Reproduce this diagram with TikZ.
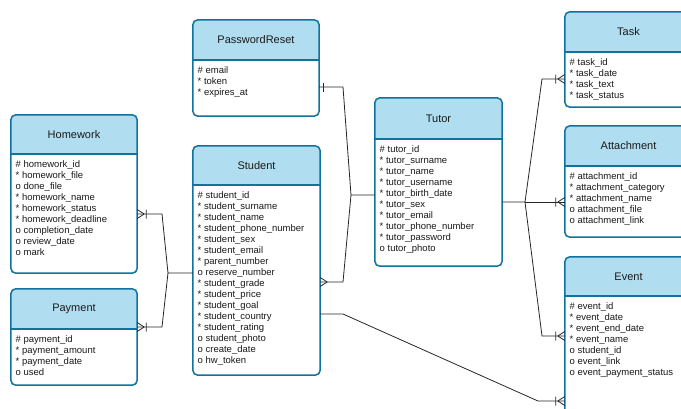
\documentclass[tikz,border=0pt]{standalone}
\usepackage{fontspec}
\setmainfont{Liberation Sans}
\usetikzlibrary{fit}
\definecolor{hdr}{HTML}{B1DDF0}
\definecolor{bdr}{HTML}{10739E}
\definecolor{txt}{HTML}{1A1A1A}
\definecolor{lnk}{HTML}{262626}
\tikzset{
  conn/.style={draw=lnk, line width=0.8pt},
  titletext/.style={inner sep=0pt, text=txt, font=\fontsize{11}{13}\selectfont},
  attrtext/.style={anchor=north west, align=left, inner sep=0pt, text=txt, font=\fontsize{9.5}{11}\selectfont},
  pics/onemany/.style={code={\draw[conn] (-7,0) -- (0,-4.5) (-7,0) -- (0,4.5) (-9,-4.5) -- (-9,4.5);}},
  pics/manyonly/.style={code={\draw[conn] (-7,0) -- (0,-4.5) (-7,0) -- (0,4.5);}},
  pics/onebar/.style={code={\draw[conn] (-4,-4.5) -- (-4,4.5);}}
}
% #1 name, #2 left, #3 top, #4 right, #5 header bottom, #6 bottom, #7 title, #8 attributes
\newcommand\erentity[8]{%
  \node[fit={(#2,#3) (#4,#6)}, inner sep=0pt, fill=white, rounded corners=5pt] (#1) {};
  \fill[hdr] (#2,#5) [rounded corners=5pt] -- (#2,#3) -- (#4,#3) [sharp corners] -- (#4,#5) -- cycle;
  \draw[bdr, line width=1.5pt, rounded corners=5pt] (#1.north west) rectangle (#1.south east);
  \draw[bdr, line width=1.2pt] (#2,#5) -- (#4,#5);
  \node[titletext] (#1-title) at ({(#2+#4)/2},{(#3+#5)/2}) {#7};
  \node[attrtext] (#1-attrs) at ({#2+4.5},{#5+6.5}) {#8};
}
\begin{document}
\begin{tikzpicture}[x=1pt,y=-1pt]
\useasboundingbox (0,0) rectangle (681,408);
\clip (0,0) rectangle (681,408);

\erentity{homework}{11}{115}{137}{154}{273}{Homework}{\# homework\_id\\* homework\_file\\o done\_file\\* homework\_name\\* homework\_status\\* homework\_deadline\\o completion\_date\\o review\_date\\o mark}
\erentity{payment}{11}{289}{137}{329}{385}{Payment}{\# payment\_id\\* payment\_amount\\* payment\_date\\o used}
\erentity{passwordreset}{193}{20}{319}{60}{116}{PasswordReset}{\# email\\* token\\* expires\_at}
\erentity{student}{193}{146}{320}{185}{375}{Student}{\# student\_id\\* student\_surname\\* student\_name\\* student\_phone\_number\\* student\_sex\\* student\_email\\* parent\_number\\o reserve\_number\\* student\_grade\\* student\_price\\* student\_goal\\* student\_country\\* student\_rating\\o student\_photo\\o create\_date\\o hw\_token}
\erentity{tutor}{375}{98}{502}{139}{266}{Tutor}{\# tutor\_id\\* tutor\_surname\\* tutor\_name\\* tutor\_username\\* tutor\_birth\_date\\* tutor\_sex\\* tutor\_email\\* tutor\_phone\_number\\* tutor\_password\\o tutor\_photo}
\erentity{task}{565}{12}{692}{52}{107}{Task}{\# task\_id\\* task\_date\\* task\_text\\* task\_status}
\erentity{attachment}{565}{126}{692}{166}{237}{Attachment}{\# attachment\_id\\* attachment\_category\\* attachment\_name\\o attachment\_file\\o attachment\_link}
\erentity{event}{565}{257}{692}{296}{420}{Event}{\# event\_id\\* event\_date\\* event\_end\_date\\* event\_name\\o student\_id\\o event\_link\\o event\_payment\_status}

% Homework / Payment -- Student
\draw[conn] (homework.east |- 0,214) -- (162,214) -- (168,273) -- (student.west |- 0,273);
\draw[conn] (payment.east |- 0,327) -- (162,327) -- (168,273);
\pic[rotate=180] at (homework.east |- 0,214) {onemany};
\pic[rotate=180] at (payment.east |- 0,327) {onemany};

% PasswordReset / Student -- Tutor
\draw[conn] (passwordreset.east |- 0,87) -- (343,87) -- (351,195) -- (tutor.west |- 0,195);
\draw[conn] (student.east |- 0,282) -- (343,282) -- (351,195);
\pic[rotate=180] at (passwordreset.east |- 0,87) {onebar};
\pic[rotate=180] at (student.east |- 0,282) {manyonly};

% Tutor -- Task / Attachment / Event
\draw[conn] (tutor.east |- 0,202) -- (525,202) -- (542,79) -- (task.west |- 0,79);
\draw[conn] (525,202) -- (attachment.west |- 0,202);
\draw[conn] (525,202) -- (542,336) -- (event.west |- 0,336);
\pic at (task.west |- 0,79) {onemany};
\pic at (attachment.west |- 0,202) {onemany};
\pic at (event.west |- 0,336) {onemany};

% Student -- Event
\draw[conn] (student.east |- 0,314) -- (343,314) -- (538,401) -- (event.west |- 0,401);
\pic at (event.west |- 0,401) {onemany};
\end{tikzpicture}
\end{document}
